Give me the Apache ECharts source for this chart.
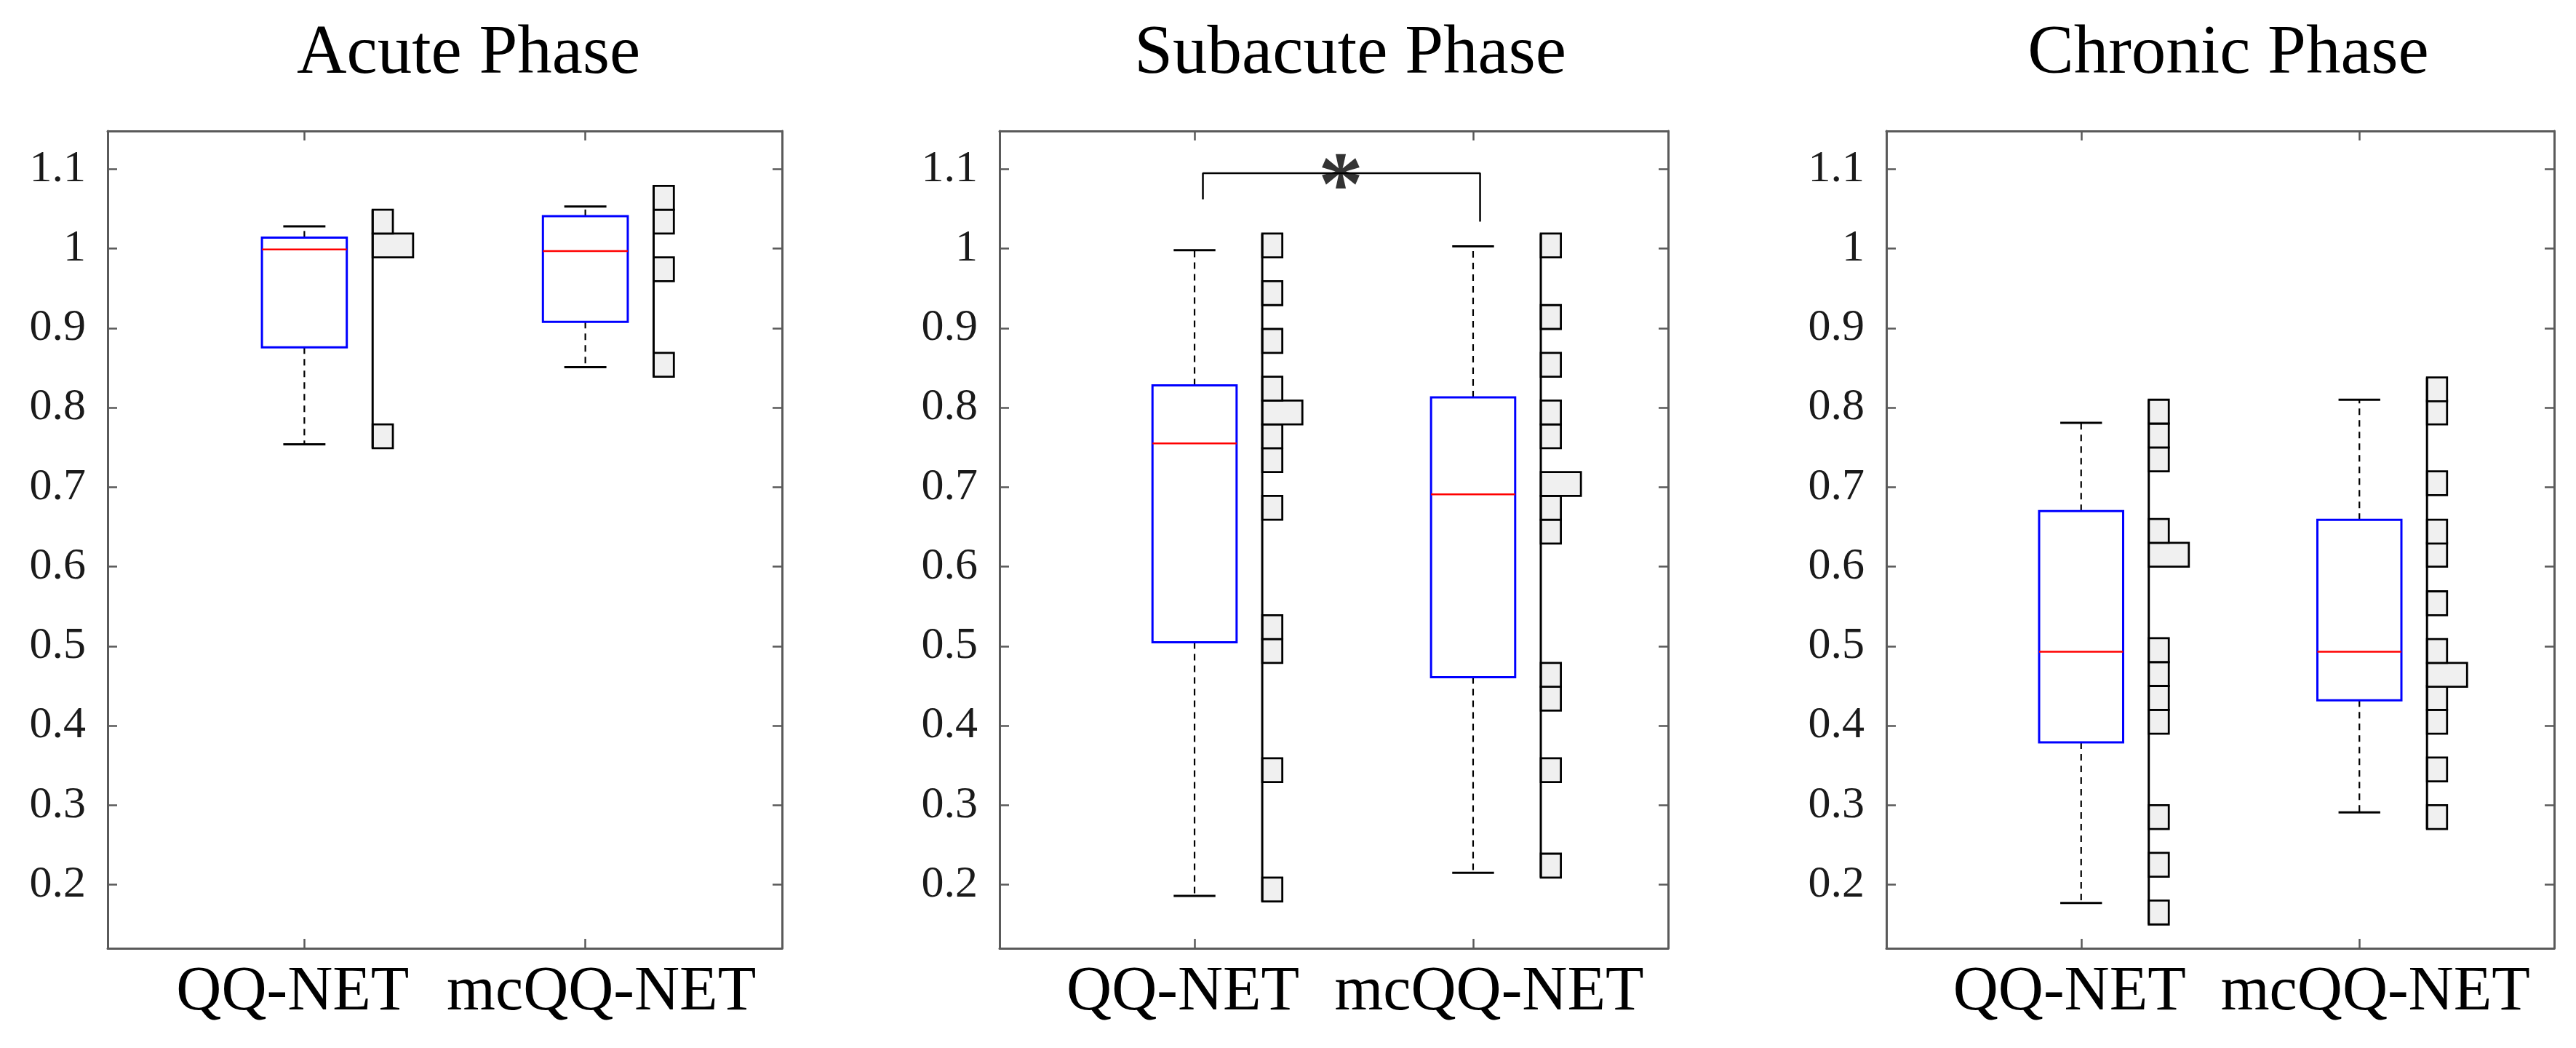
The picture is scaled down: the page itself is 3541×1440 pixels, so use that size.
<!DOCTYPE html>
<html>
<head>
<meta charset="utf-8">
<script src="https://cdn.jsdelivr.net/npm/echarts@6/dist/echarts.min.js"></script>
<style>
html,body{margin:0;padding:0;background:#fff;}
#chart{width:3541px;height:1440px;}
</style>
</head>
<body>
<div id="chart"></div>
<script>
// ---------------- DATA ----------------
const phases = ['Acute Phase', 'Subacute Phase', 'Chronic Phase'];
const categories = ['QQ-NET', 'mcQQ-NET'];
const yTicks = [0.2, 0.3, 0.4, 0.5, 0.6, 0.7, 0.8, 0.9, 1.0, 1.1];
const xTicks = [1, 2];

// box stats: [lower whisker, Q1, median, Q3, upper whisker]
const acuteQQBox    = [0.754, 0.876, 0.999, 1.014, 1.028];
const acuteMcBox    = [0.851, 0.908, 0.997, 1.041, 1.053];
const subacuteQQBox = [0.186, 0.505, 0.755, 0.828, 0.998];
const subacuteMcBox = [0.215, 0.461, 0.691, 0.813, 1.003];
const chronicQQBox  = [0.177, 0.379, 0.493, 0.670, 0.781];
const chronicMcBox  = [0.291, 0.432, 0.493, 0.659, 0.810];

// histogram: lower bin edges and counts
const binWidth = 0.030;
const acuteQQBins    = [0.749, 0.989, 1.019];
const acuteQQCounts  = [1, 2, 1];
const acuteMcBins    = [0.839, 0.959, 1.019, 1.049];
const acuteMcCounts  = [1, 1, 1, 1];
const subacuteQQBins   = [0.179, 0.329, 0.479, 0.509, 0.659, 0.719, 0.749, 0.779, 0.809, 0.869, 0.929, 0.989];
const subacuteQQCounts = [1, 1, 1, 1, 1, 1, 1, 2, 1, 1, 1, 1];
const subacuteMcBins   = [0.209, 0.329, 0.419, 0.449, 0.629, 0.659, 0.689, 0.749, 0.779, 0.839, 0.899, 0.989];
const subacuteMcCounts = [1, 1, 1, 1, 1, 1, 2, 1, 1, 1, 1, 1];
const chronicQQBins   = [0.150, 0.210, 0.270, 0.390, 0.420, 0.450, 0.480, 0.600, 0.630, 0.720, 0.750, 0.780];
const chronicQQCounts = [1, 1, 1, 1, 1, 1, 1, 2, 1, 1, 1, 1];
const chronicMcBins   = [0.270, 0.330, 0.390, 0.420, 0.449, 0.479, 0.539, 0.600, 0.629, 0.690, 0.779, 0.808];
const chronicMcCounts = [1, 1, 1, 1, 2, 1, 1, 1, 1, 1, 1, 1];

// significance bracket (subacute panel)
const bracketX = [1.03, 2.025];
const bracketY = [1.062, 1.095, 1.034]; // left leg end, bar level, right leg end
const starPos = [1.525, 1.095];
const starText = '*';

// ---------------- LAYOUT / STYLE ----------------
const FONT = "'Liberation Serif', 'Times New Roman', serif";
const grids = [
  {left: 148,  top: 180, width: 927, height: 1123},
  {left: 1374, top: 180, width: 919, height: 1123},
  {left: 2593, top: 180, width: 918, height: 1123}
];
const titleCenters = [644, 1856, 3063];
const X_MIN = 0.3, X_MAX = 2.7, Y_MIN = 0.12, Y_MAX = 1.148;
const BOX_HALF = 0.151, CAP_HALF = 0.075, HIST_OFF = 0.243, COUNT_W = 0.072;
const AXIS_COLOR = '#5a5a5a';

const panels = [
  {boxes: [acuteQQBox, acuteMcBox], bins: [acuteQQBins, acuteMcBins], counts: [acuteQQCounts, acuteMcCounts]},
  {boxes: [subacuteQQBox, subacuteMcBox], bins: [subacuteQQBins, subacuteMcBins], counts: [subacuteQQCounts, subacuteMcCounts]},
  {boxes: [chronicQQBox, chronicMcBox], bins: [chronicQQBins, chronicMcBins], counts: [chronicQQCounts, chronicMcCounts]}
];

function renderBox(params, api) {
  const x = api.value(0), lo = api.value(1), q1 = api.value(2), med = api.value(3), q3 = api.value(4), hi = api.value(5);
  const c = (a, b) => api.coord([a, b]);
  const dash = {stroke: '#000', lineWidth: 2.2, lineDash: [9, 7]};
  const solid = {stroke: '#000', lineWidth: 3};
  const tl = c(x - BOX_HALF, q3), br = c(x + BOX_HALF, q1);
  return {
    type: 'group',
    children: [
      {type: 'line', shape: {x1: c(x, q3)[0], y1: c(x, q3)[1], x2: c(x, hi)[0], y2: c(x, hi)[1]}, style: dash},
      {type: 'line', shape: {x1: c(x, q1)[0], y1: c(x, q1)[1], x2: c(x, lo)[0], y2: c(x, lo)[1]}, style: dash},
      {type: 'line', shape: {x1: c(x - CAP_HALF, hi)[0], y1: c(x, hi)[1], x2: c(x + CAP_HALF, hi)[0], y2: c(x, hi)[1]}, style: solid},
      {type: 'line', shape: {x1: c(x - CAP_HALF, lo)[0], y1: c(x, lo)[1], x2: c(x + CAP_HALF, lo)[0], y2: c(x, lo)[1]}, style: solid},
      {type: 'rect', shape: {x: tl[0], y: tl[1], width: br[0] - tl[0], height: br[1] - tl[1]}, style: {fill: 'none', stroke: '#0000ff', lineWidth: 3}},
      {type: 'line', shape: {x1: tl[0], y1: c(x, med)[1], x2: br[0], y2: c(x, med)[1]}, style: {stroke: '#ff0000', lineWidth: 2.5}}
    ]
  };
}

function renderBin(params, api) {
  const x = api.value(0), lo = api.value(1), cnt = api.value(2);
  const p0 = api.coord([x + HIST_OFF, lo + binWidth]);
  const p1 = api.coord([x + HIST_OFF + cnt * COUNT_W, lo]);
  return {type: 'rect', shape: {x: p0[0], y: p0[1], width: p1[0] - p0[0], height: p1[1] - p0[1]},
          style: {fill: '#f0f0f0', stroke: '#000', lineWidth: 2.8}};
}

function renderBase(params, api) {
  const x = api.value(0);
  const a = api.coord([x + HIST_OFF, api.value(1)]);
  const b = api.coord([x + HIST_OFF, api.value(2)]);
  return {type: 'line', shape: {x1: a[0], y1: a[1], x2: b[0], y2: b[1]}, style: {stroke: '#000', lineWidth: 3}};
}

const xAxes = [], yAxes = [], series = [], titles = [];
const tickCommon = {show: true, inside: true, length: 13, lineStyle: {color: AXIS_COLOR, width: 2.5}};
const lineCommon = {show: true, onZero: false, lineStyle: {color: AXIS_COLOR, width: 3}};

grids.forEach((g, i) => {
  titles.push({text: phases[i], left: titleCenters[i], top: 28, textAlign: 'center', padding: 0,
    textStyle: {fontFamily: FONT, fontSize: 95, fontWeight: 'normal', color: '#000'}});
  // bottom x axis
  xAxes.push({type: 'value', gridIndex: i, min: X_MIN, max: X_MAX, position: 'bottom',
    axisLine: lineCommon, splitLine: {show: false},
    axisTick: Object.assign({}, tickCommon, {customValues: xTicks}),
    axisLabel: {customValues: xTicks, margin: 18, fontFamily: FONT, fontSize: 86, color: '#000',
      formatter: v => v === 1 ? '{a|' + categories[0] + '}' : '{b|' + categories[1] + '}',
      rich: {a: {fontFamily: FONT, fontSize: 86, color: '#000', padding: [0, 32, 0, 0]},
             b: {fontFamily: FONT, fontSize: 86, color: '#000', padding: [0, 0, 0, 44]}}}
  });
  // top x axis (mirror ticks)
  xAxes.push({type: 'value', gridIndex: i, min: X_MIN, max: X_MAX, position: 'top',
    axisLine: lineCommon, splitLine: {show: false},
    axisTick: Object.assign({}, tickCommon, {customValues: xTicks}),
    axisLabel: {show: false}
  });
  yAxes.push({type: 'value', gridIndex: i, min: Y_MIN, max: Y_MAX, position: 'left',
    axisLine: lineCommon, splitLine: {show: false},
    axisTick: Object.assign({}, tickCommon, {customValues: yTicks}),
    axisLabel: {customValues: yTicks, margin: 30, fontFamily: FONT, fontSize: 62, color: '#1a1a1a',
      formatter: v => (Math.abs(v - 1) < 1e-9 ? '1' : v.toFixed(1))}
  });
  yAxes.push({type: 'value', gridIndex: i, min: Y_MIN, max: Y_MAX, position: 'right',
    axisLine: lineCommon, splitLine: {show: false},
    axisTick: Object.assign({}, tickCommon, {customValues: yTicks}),
    axisLabel: {show: false}
  });

  const P = panels[i];
  const binData = [];
  const baseData = [];
  const boxData = [];
  xTicks.forEach((gx, k) => {
    P.bins[k].forEach((lo, j) => binData.push([gx, lo, P.counts[k][j]]));
    baseData.push([gx, Math.min(...P.bins[k]), Math.max(...P.bins[k]) + binWidth]);
    boxData.push([gx].concat(P.boxes[k]));
  });
  series.push({type: 'custom', xAxisIndex: 2 * i, yAxisIndex: 2 * i, renderItem: renderBin, data: binData, clip: false, silent: true});
  series.push({type: 'custom', xAxisIndex: 2 * i, yAxisIndex: 2 * i, renderItem: renderBase, data: baseData, clip: false, silent: true});
  series.push({type: 'custom', xAxisIndex: 2 * i, yAxisIndex: 2 * i, renderItem: renderBox, data: boxData, clip: false, silent: true});
});

// significance bracket on subacute panel
series.push({type: 'line', xAxisIndex: 2, yAxisIndex: 2, symbol: 'none', silent: true, animation: false,
  lineStyle: {color: '#000', width: 2.5},
  data: [[bracketX[0], bracketY[0]], [bracketX[0], bracketY[1]], [bracketX[1], bracketY[1]], [bracketX[1], bracketY[2]]]
});
series.push({type: 'scatter', xAxisIndex: 2, yAxisIndex: 2, symbolSize: 1, itemStyle: {color: 'rgba(0,0,0,0)'}, silent: true,
  data: [starPos],
  label: {show: true, position: 'inside', formatter: starText, fontFamily: FONT, fontSize: 124, fontWeight: 'bold', color: '#000', offset: [0, 24]}
});

const chart = echarts.init(document.getElementById('chart'), null, {renderer: 'canvas'});
chart.setOption({
  animation: false,
  backgroundColor: '#fff',
  title: titles,
  grid: grids,
  xAxis: xAxes,
  yAxis: yAxes,
  series: series
});
</script>
</body>
</html>
